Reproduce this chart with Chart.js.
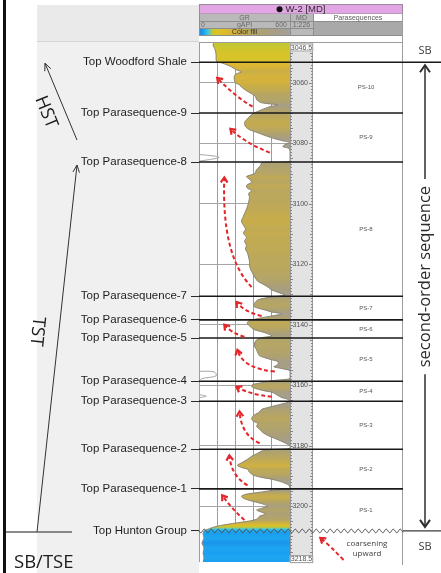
<!DOCTYPE html>
<html>
<head>
<meta charset="utf-8">
<title>W-2 gamma-ray log and parasequences</title>
<script src="https://cdn.jsdelivr.net/npm/chart.js@4.4.1/dist/chart.umd.min.js"></script>
<style>
  html, body { margin: 0; padding: 0; background: #ffffff; }
  #box { width: 441px; height: 573px; }
</style>
</head>
<body>
<div id="box"><canvas id="log" width="441" height="573"></canvas></div>
<script>
// Measured-depth window of the log (ft MD)
const depthRange = [3046.5, 3218.5];
// GR track scale (gAPI)
const grRange = [0, 600];

// Gamma-ray log of well W-2: measured depth (ft) and GR (gAPI)
const grDepth = [
  3046.5, 3047.5, 3049.1, 3050.8, 3052.4, 3053.1, 3053.4, 3054.1, 3054.7, 3055.7,
  3056.4, 3057.0, 3057.7, 3059.0, 3060.0, 3060.7, 3061.7, 3062.6, 3063.6, 3064.6,
  3065.6, 3066.6, 3067.3, 3067.9, 3068.9, 3069.9, 3070.5, 3071.5, 3072.2, 3073.2,
  3074.5, 3075.5, 3076.5, 3077.5, 3078.5, 3079.1, 3079.8, 3080.4, 3081.1, 3081.7,
  3082.7, 3084.7, 3086.0, 3086.4, 3087.3, 3088.7, 3090.0, 3091.0, 3091.9, 3092.9,
  3093.9, 3094.9, 3095.6, 3096.6, 3097.9, 3099.5, 3100.8, 3102.5, 3104.1, 3105.8,
  3107.1, 3108.4, 3109.7, 3111.1, 3112.4, 3113.7, 3115.0, 3116.3, 3117.6, 3119.0,
  3120.3, 3121.6, 3122.9, 3124.2, 3125.6, 3126.5, 3127.5, 3128.5, 3129.5, 3130.2,
  3130.5, 3131.2, 3131.8, 3132.8, 3133.8, 3134.4, 3135.1, 3135.8, 3136.4, 3137.1,
  3137.7, 3138.4, 3139.1, 3139.7, 3140.4, 3141.0, 3141.7, 3142.3, 3143.0, 3143.7,
  3144.3, 3145.0, 3146.0, 3147.3, 3148.3, 3149.3, 3150.3, 3150.9, 3151.6, 3152.2,
  3153.2, 3153.9, 3154.5, 3155.2, 3156.2, 3157.8, 3158.5, 3159.1, 3159.8, 3160.4,
  3161.1, 3161.8, 3162.4, 3163.4, 3164.1, 3164.7, 3165.4, 3166.1, 3166.7, 3167.4,
  3168.0, 3169.0, 3170.0, 3171.0, 3171.7, 3172.7, 3173.6, 3174.6, 3175.6, 3176.6,
  3177.6, 3178.6, 3179.6, 3180.2, 3180.9, 3181.5, 3182.5, 3183.5, 3184.5, 3185.5,
  3186.5, 3187.2, 3187.8, 3188.8, 3189.8, 3190.5, 3191.1, 3191.8, 3192.4, 3193.1,
  3194.1, 3194.8, 3195.4, 3196.1, 3196.7, 3197.4, 3198.1, 3198.7, 3199.4, 3200.0,
  3200.7, 3201.3, 3202.0, 3202.6, 3203.3, 3204.3, 3204.9, 3205.6, 3206.3, 3206.9,
  3207.6, 3208.2, 3209.2, 3210.5, 3212.2, 3213.8, 3215.5, 3217.1, 3218.5
];
const grValue = [
  100, 93, 107, 113, 113, 120, 147, 187, 213, 247,
  280, 247, 233, 233, 240, 267, 287, 313, 347, 373,
  380, 413, 520, 467, 413, 367, 347, 327, 313, 300,
  307, 333, 387, 440, 500, 547, 600, 567, 553, 593,
  600, 600, 600, 413, 407, 380, 367, 313, 333, 347,
  313, 320, 347, 327, 333, 327, 320, 307, 293, 280,
  293, 307, 293, 313, 300, 313, 307, 320, 327, 333,
  333, 340, 353, 367, 387, 420, 453, 480, 533, 567,
  533, 433, 387, 367, 360, 380, 433, 480, 547, 480,
  413, 353, 320, 320, 333, 347, 367, 413, 453, 480,
  413, 380, 367, 367, 380, 387, 400, 433, 480, 520,
  520, 493, 547, 600, 600, 600, 480, 420, 353, 347,
  373, 427, 487, 520, 547, 587, 600, 553, 507, 453,
  413, 393, 360, 347, 353, 387, 380, 400, 420, 453,
  500, 547, 587, 600, 600, 427, 387, 347, 320, 287,
  253, 280, 320, 333, 360, 413, 480, 533, 567, 593,
  600, 480, 400, 307, 280, 293, 333, 380, 427, 453,
  413, 380, 413, 440, 400, 380, 333, 240, 153, 100,
  60, 33, 27, 33, 20, 33, 27, 33, 27
];

// Wrapped (off-scale) part of the GR trace, gAPI minus 600; null breaks the trace
const wrapDepth = [3083.7, 3084.2, 3084.7, 3085.4, 3085.9, 3120.0, 3155.4, 3155.6, 3156.9, 3157.8, 3158.5, 3160.0, 3163.1, 3163.6, 3164.1];
const wrapValue = [0, 100, 133, 67, 0, null, 0, 100, 113, 20, 0, null, 0, 47, 7];

// Formation / parasequence tops (ft MD)
const topNames = [
  'Top Woodford Shale', 'Top Parasequence-9', 'Top Parasequence-8', 'Top Parasequence-7',
  'Top Parasequence-6', 'Top Parasequence-5', 'Top Parasequence-4', 'Top Parasequence-3',
  'Top Parasequence-2', 'Top Parasequence-1', 'Top Hunton Group'
];
const topDepths = [3053.2, 3070.0, 3086.2, 3130.6, 3138.4, 3144.4, 3158.7, 3165.3, 3181.2, 3194.3, 3208.2];

// Parasequence names, one per interval between consecutive tops
const psNames = ['PS-10', 'PS-9', 'PS-8', 'PS-7', 'PS-6', 'PS-5', 'PS-4', 'PS-3', 'PS-2', 'PS-1'];

// Depth-track labels
const mdTicks = [3060, 3080, 3100, 3120, 3140, 3160, 3180, 3200];
const mdEnds = ['3046.5', '3218.5'];

// Coarsening-upward arrows: [GR, depth] of tail, bend and head
const arrowTail = [[353, 3067.9], [467, 3083.1], [347, 3127.5], [413, 3137.1], [300, 3144.0], [500, 3155.5], [480, 3163.8], [400, 3179.2], [320, 3193.1], [300, 3204.6]];
const arrowBend = [[240, 3064.6], [300, 3079.8], [147, 3117.3], [300, 3135.8], [213, 3142.7], [287, 3154.5], [333, 3163.1], [280, 3176.6], [213, 3190.1], [213, 3200.7]];
const arrowHead = [[120, 3058.4], [207, 3075.2], [167, 3091.3], [247, 3132.5], [167, 3140.0], [253, 3148.3], [247, 3160.5], [267, 3168.7], [200, 3183.2], [153, 3196.4]];
// Key arrow next to "coarsening upward"
const keyArrow = [[953, 3217.8], [867, 3213.2], [800, 3210.5]];

// ---- colour fill (GR value -> colour) ----
const fillStops = [
  [0.00, '#1a7fe0'], [0.05, '#1aa2f2'], [0.10, '#3cc8e8'], [0.14, '#b8c838'],
  [0.19, '#d8c428'], [0.30, '#e0b82e'], [0.45, '#cbae46'], [0.55, '#bba85c'],
  [0.70, '#ada074'], [0.85, '#a69e86'], [1.00, '#a3a19a']
];
function hexRgb(h) { return [parseInt(h.slice(1, 3), 16), parseInt(h.slice(3, 5), 16), parseInt(h.slice(5, 7), 16)]; }
function grColour(v) {
  const t = Math.max(0, Math.min(1, (v - grRange[0]) / (grRange[1] - grRange[0])));
  for (let i = 1; i < fillStops.length; i++) {
    if (t <= fillStops[i][0]) {
      const [t0, c0] = fillStops[i - 1], [t1, c1] = fillStops[i];
      const f = (t - t0) / (t1 - t0), a = hexRgb(c0), b = hexRgb(c1);
      return 'rgb(' + a.map((x, k) => Math.round(x + (b[k] - x) * f)).join(',') + ')';
    }
  }
  return fillStops[fillStops.length - 1][1];
}
function fillByValue(context) {
  const chart = context.chart, area = chart.chartArea;
  if (!area || !chart.scales.y) return '#c4ac50';
  const ys = chart.scales.y;
  const g = chart.ctx.createLinearGradient(0, area.top, 0, area.bottom);
  grDepth.forEach((d, i) => {
    const p = (ys.getPixelForValue(d) - area.top) / (area.bottom - area.top);
    g.addColorStop(Math.max(0, Math.min(1, p)), grColour(grValue[i]));
  });
  return g;
}

const SANS = '"Liberation Sans", Arial, sans-serif';
const OPEN = '"Open Sans", "Liberation Sans", sans-serif';

// track geometry next to the GR track (px)
const MD_W = 23, PS_W = 90, PANEL_L = 37;

// ---- backgrounds and headers ----
const panelPlugin = {
  id: 'logPanel',
  beforeDraw(chart) {
    const { ctx, chartArea: a } = chart;
    const W = chart.width, H = chart.height;
    const mdL = a.right, mdR = a.right + MD_W, psL = mdR, psR = mdR + PS_W;
    ctx.save();
    ctx.fillStyle = '#ffffff'; ctx.fillRect(0, 0, W, H);
    // grey panel behind the top labels
    ctx.fillStyle = '#f0f0f0'; ctx.fillRect(PANEL_L, 5, a.left - PANEL_L, H - 5);
    ctx.fillStyle = '#eaeaea'; ctx.fillRect(PANEL_L, 5, a.left - PANEL_L, a.top - 6);
    ctx.strokeStyle = '#d4d4d4'; ctx.lineWidth = 1;
    ctx.beginPath(); ctx.moveTo(PANEL_L, a.top - 0.5); ctx.lineTo(a.left, a.top - 0.5); ctx.stroke();
    // frame on the left edge
    ctx.fillStyle = '#111111'; ctx.fillRect(3, 0, 3, H);

    // track backgrounds
    ctx.fillStyle = '#ffffff'; ctx.fillRect(a.left, 14, psR - a.left, H - 14);
    ctx.fillStyle = '#e3e3e3'; ctx.fillRect(mdL, a.top, MD_W, a.bottom - a.top);

    // title bar
    ctx.fillStyle = '#e3a6e5'; ctx.fillRect(a.left, 4, psR - a.left, 10);
    ctx.strokeStyle = '#9a8a9a'; ctx.strokeRect(a.left + 0.5, 4.5, psR - a.left - 1, 9.5);
    ctx.font = '9.5px ' + SANS; ctx.textBaseline = 'middle'; ctx.textAlign = 'left';
    const title = 'W-2 [MD]';
    const tw = ctx.measureText(title).width, tot = 6 + 3 + tw;
    const tx = (a.left + psR) / 2 - tot / 2;
    ctx.fillStyle = '#111111';
    ctx.beginPath(); ctx.arc(tx + 3, 9.2, 3, 0, Math.PI * 2); ctx.fill();
    ctx.fillStyle = '#2a2a2a'; ctx.fillText(title, tx + 9, 9.5);

    // GR and MD headers
    ctx.fillStyle = '#b9b9b9';
    ctx.fillRect(a.left, 14, a.right - a.left, 15);
    ctx.fillRect(mdL, 14, MD_W, 21.5);
    // colour-fill legend bar
    const cg = ctx.createLinearGradient(a.left, 0, a.right, 0);
    fillStops.forEach(([t, c]) => cg.addColorStop(t, c));
    ctx.fillStyle = cg; ctx.fillRect(a.left, 29, a.right - a.left, 6.5);
    // parasequence header
    ctx.fillStyle = '#ffffff'; ctx.fillRect(psL, 14, PS_W, 7.5);
    ctx.fillStyle = '#a9a9a9'; ctx.fillRect(psL, 21.5, PS_W, 14);
    // header separators
    ctx.strokeStyle = '#8e8e8e'; ctx.lineWidth = 1;
    ctx.beginPath();
    ctx.moveTo(a.left, 21.5); ctx.lineTo(mdR, 21.5);
    ctx.moveTo(a.left, 28.5); ctx.lineTo(mdR, 28.5);
    ctx.moveTo(a.left, 35.5); ctx.lineTo(psR, 35.5);
    ctx.moveTo(psL, 21.5); ctx.lineTo(psR, 21.5);
    ctx.moveTo(a.left + 0.5, 14); ctx.lineTo(a.left + 0.5, 35.5);
    ctx.moveTo(mdL + 0.5, 14); ctx.lineTo(mdL + 0.5, 35.5);
    ctx.moveTo(psL + 0.5, 14); ctx.lineTo(psL + 0.5, 35.5);
    ctx.moveTo(psR - 0.5, 14); ctx.lineTo(psR - 0.5, 35.5);
    ctx.stroke();
    // header text
    ctx.font = '7px ' + SANS; ctx.fillStyle = '#6a6a6a';
    ctx.textAlign = 'center';
    ctx.fillText('GR', (a.left + a.right) / 2, 18);
    ctx.fillText('gAPI', (a.left + a.right) / 2, 25.2);
    ctx.fillText('MD', mdL + MD_W / 2, 18);
    ctx.fillText('1:226', mdL + MD_W / 2, 25.2);
    ctx.textAlign = 'left'; ctx.fillText(String(grRange[0]), a.left + 2, 25.2);
    ctx.textAlign = 'right'; ctx.fillText(String(grRange[1]), a.right - 3, 25.2);
    ctx.textAlign = 'center'; ctx.fillStyle = '#333333';
    ctx.fillText('Color fill', (a.left + a.right) / 2, 32.4);
    ctx.fillStyle = '#5a5a5a';
    ctx.fillText('Parasequences', psL + PS_W / 2, 17.9);
    ctx.restore();
  }
};

// ---- tops, depth track, parasequence column and annotations ----
function openArrow(ctx, x0, y0, x1, y1, size) {
  const ang = Math.atan2(y1 - y0, x1 - x0);
  ctx.beginPath(); ctx.moveTo(x0, y0); ctx.lineTo(x1, y1); ctx.stroke();
  ctx.beginPath();
  ctx.moveTo(x1 - size * Math.cos(ang - 0.42), y1 - size * Math.sin(ang - 0.42));
  ctx.lineTo(x1, y1);
  ctx.lineTo(x1 - size * Math.cos(ang + 0.42), y1 - size * Math.sin(ang + 0.42));
  ctx.stroke();
}
function dashedArrow(ctx, p0, c, p1) {
  ctx.save();
  ctx.strokeStyle = '#e3262b'; ctx.lineWidth = 2; ctx.lineCap = 'butt';
  ctx.setLineDash([4, 2.6]);
  ctx.beginPath(); ctx.moveTo(p0.x, p0.y); ctx.quadraticCurveTo(c.x, c.y, p1.x, p1.y); ctx.stroke();
  ctx.setLineDash([]);
  const ang = Math.atan2(p1.y - c.y, p1.x - c.x), s = 6;
  ctx.lineWidth = 2.2; ctx.lineJoin = 'miter';
  ctx.beginPath();
  ctx.moveTo(p1.x - s * Math.cos(ang - 0.6), p1.y - s * Math.sin(ang - 0.6));
  ctx.lineTo(p1.x, p1.y);
  ctx.lineTo(p1.x - s * Math.cos(ang + 0.6), p1.y - s * Math.sin(ang + 0.6));
  ctx.stroke();
  ctx.restore();
}

const overlayPlugin = {
  id: 'logOverlay',
  afterDraw(chart) {
    const { ctx, chartArea: a, scales } = chart;
    const W = chart.width, H = chart.height;
    const yPix = d => scales.y.getPixelForValue(d);
    const xPix = v => scales.x.getPixelForValue(v);
    const pt = p => ({ x: xPix(p[0]), y: yPix(p[1]) });
    const mdL = a.right, mdR = a.right + MD_W, psL = mdR, psR = mdR + PS_W;
    const yw = yPix(topDepths[0]);
    const yh = yPix(topDepths[topDepths.length - 1]);
    const y8 = yPix(topDepths[2]);
    ctx.save();

    // track frame
    ctx.strokeStyle = '#9c9c9c'; ctx.lineWidth = 1;
    ctx.beginPath();
    ctx.moveTo(a.left, a.top + 0.5); ctx.lineTo(psR, a.top + 0.5);
    ctx.moveTo(mdR - 0.5, a.top); ctx.lineTo(mdR - 0.5, a.bottom);
    ctx.moveTo(psR - 0.5, 14); ctx.lineTo(psR - 0.5, H - 8);
    ctx.stroke();

    // depth-track ruler
    ctx.strokeStyle = '#878787';
    ctx.beginPath();
    for (let d = Math.ceil(depthRange[0]); d <= depthRange[1]; d++) {
      const y = Math.round(yPix(d)) + 0.5, len = d % 5 === 0 ? 3 : 2;
      ctx.moveTo(mdL, y); ctx.lineTo(mdL + len, y);
      ctx.moveTo(mdR - len, y); ctx.lineTo(mdR, y);
    }
    ctx.stroke();
    ctx.font = '7px ' + SANS; ctx.textBaseline = 'middle';
    ctx.textAlign = 'right'; ctx.fillStyle = '#505050';
    mdTicks.forEach(d => {
      const y = yPix(d);
      ctx.fillText(String(d), mdR - 5, y);
      ctx.beginPath(); ctx.moveTo(mdR - 4, Math.round(y) + 0.5); ctx.lineTo(mdR, Math.round(y) + 0.5); ctx.stroke();
    });
    // end depths in small boxes
    ctx.textAlign = 'center';
    [[mdEnds[0], a.top + 5.5], [mdEnds[1], a.bottom - 3]].forEach(([s, y]) => {
      const w = ctx.measureText(s).width + 2;
      ctx.fillStyle = '#ffffff'; ctx.fillRect(mdL + MD_W / 2 - w / 2, y - 4, w, 8);
      ctx.strokeStyle = '#9a9a9a'; ctx.strokeRect(mdL + MD_W / 2 - w / 2 + 0.5, y - 3.5, w - 1, 7);
      ctx.fillStyle = '#505050'; ctx.fillText(s, mdL + MD_W / 2, y + 0.3);
    });

    // tops across the tracks
    ctx.strokeStyle = '#181818'; ctx.lineWidth = 1.6;
    topDepths.forEach((d, i) => {
      if (i === topDepths.length - 1) return;
      const y = yPix(d);
      ctx.beginPath(); ctx.moveTo(a.left, y); ctx.lineTo(i === 0 ? W : psR, y); ctx.stroke();
    });
    // unconformity at the top of the Hunton Group
    ctx.strokeStyle = '#4c4c4c'; ctx.lineWidth = 1;
    ctx.beginPath();
    for (let x = a.left; x <= psR; x += 0.5) {
      const y = yh + 1.8 * Math.sin((x - a.left) / 7 * 2 * Math.PI);
      if (x === a.left) ctx.moveTo(x, y); else ctx.lineTo(x, y);
    }
    ctx.stroke();
    ctx.strokeStyle = '#3a3a3a'; ctx.lineWidth = 1.2;
    ctx.beginPath(); ctx.moveTo(psR, yh); ctx.lineTo(W, yh); ctx.stroke();

    // parasequence names
    ctx.font = '6px ' + SANS; ctx.fillStyle = '#555555'; ctx.textAlign = 'center';
    psNames.forEach((n, i) => {
      ctx.fillText(n, psL + 53, (yPix(topDepths[i]) + yPix(topDepths[i + 1])) / 2);
    });
    ctx.font = '8px ' + OPEN; ctx.fillStyle = '#404040';
    ctx.fillText('coarsening', psL + 54, yh + 13);
    ctx.fillText('upward', psL + 54, yh + 23);

    // coarsening-upward arrows
    arrowTail.forEach((t, i) => dashedArrow(ctx, pt(t), pt(arrowBend[i]), pt(arrowHead[i])));
    dashedArrow(ctx, pt(keyArrow[0]), pt(keyArrow[1]), pt(keyArrow[2]));

    // second-order sequence
    const sx = psR + 22;
    ctx.fillStyle = '#3c3c3c'; ctx.font = '11px ' + OPEN; ctx.textAlign = 'center';
    ctx.fillText('SB', sx, yw - 11);
    ctx.fillText('SB', sx, yh + 16);
    const label = 'second-order sequence';
    ctx.font = '16.5px ' + OPEN;
    const lw = ctx.measureText(label).width;
    const midY = (yw + yh) / 2 - 20;
    const yTop = yw + 3, yBot = yh - 4;
    ctx.strokeStyle = '#2e2e2e'; ctx.lineWidth = 1.5;
    ctx.beginPath();
    ctx.moveTo(sx, yTop + 1); ctx.lineTo(sx, midY - lw / 2 - 7);
    ctx.moveTo(sx, midY + lw / 2 + 7); ctx.lineTo(sx, yBot - 1);
    ctx.stroke();
    ctx.lineWidth = 2;
    ctx.beginPath();
    ctx.moveTo(sx - 5, yTop + 7); ctx.lineTo(sx, yTop); ctx.lineTo(sx + 5, yTop + 7);
    ctx.moveTo(sx - 5, yBot - 7); ctx.lineTo(sx, yBot); ctx.lineTo(sx + 5, yBot - 7);
    ctx.stroke();
    ctx.save();
    ctx.translate(sx, midY); ctx.rotate(-Math.PI / 2);
    ctx.fillStyle = '#2a2a2a'; ctx.textBaseline = 'middle';
    ctx.fillText(label, 0, 0);
    ctx.restore();

    // systems tracts on the left
    ctx.strokeStyle = '#666666'; ctx.lineWidth = 1.5;
    ctx.beginPath(); ctx.moveTo(6, yh + 1); ctx.lineTo(72, yh + 1); ctx.stroke();
    ctx.strokeStyle = '#333333'; ctx.lineWidth = 1;
    openArrow(ctx, 37, yh + 1, 77, y8 + 3, 8);
    openArrow(ctx, 77, y8 - 22, 45, yw + 1, 8);
    ctx.fillStyle = '#1c1c1c'; ctx.font = '18px ' + OPEN; ctx.textBaseline = 'middle';
    ctx.save();
    ctx.translate(46, (y8 - 22 + yw) / 2 + 11); ctx.rotate(68 * Math.PI / 180);
    ctx.fillText('HST', 0, 0);
    ctx.restore();
    ctx.save();
    ctx.translate(37, (yh + y8) / 2 - 15); ctx.rotate(96 * Math.PI / 180);
    ctx.fillText('TST', 0, 0);
    ctx.restore();
    ctx.textAlign = 'left'; ctx.textBaseline = 'alphabetic'; ctx.font = '18.5px ' + OPEN;
    ctx.fillText('SB/TSE', 14, H - 5);
    ctx.restore();
  }
};

new Chart(document.getElementById('log'), {
  type: 'line',
  data: {
    datasets: [
      {
        label: 'GR',
        data: grDepth.map((d, i) => ({ x: grValue[i], y: d })),
        borderColor: '#8a8470', borderWidth: 1,
        pointRadius: 0, tension: 0.25,
        fill: { value: grRange[1] },
        backgroundColor: fillByValue
      },
      {
        label: 'GR wrapped',
        data: wrapDepth.map((d, i) => ({ x: wrapValue[i], y: d })),
        borderColor: '#a8a8a8', borderWidth: 1,
        pointRadius: 0, tension: 0.35, fill: false, spanGaps: false
      }
    ]
  },
  options: {
    indexAxis: 'y',
    responsive: false,
    animation: false,
    devicePixelRatio: 1,
    layout: { padding: { left: 0, right: 151, top: 42, bottom: 9 } },
    plugins: { legend: { display: false }, tooltip: { enabled: false } },
    scales: {
      x: {
        type: 'linear', position: 'top', min: grRange[0], max: grRange[1],
        ticks: { display: false, stepSize: 120 },
        grid: { color: '#9c9c9c', drawTicks: false },
        border: { display: false },
        afterFit: s => { s.height = 0; }
      },
      y: {
        type: 'linear', position: 'left', reverse: true,
        min: depthRange[0], max: depthRange[1],
        afterBuildTicks: s => { s.ticks = topDepths.map(v => ({ value: v })); },
        ticks: {
          autoSkip: false, padding: 4, color: '#1e1e1e',
          font: { family: SANS, size: 11.5 },
          callback: (v, i) => topNames[i]
        },
        grid: { drawOnChartArea: false, drawTicks: true, tickLength: 8, tickColor: '#2a2a2a', tickWidth: 1 },
        border: { display: false },
        afterFit: s => { s.width = 199; }
      },
      yd: {
        type: 'linear', position: 'right', reverse: true,
        min: depthRange[0], max: depthRange[1],
        afterBuildTicks: s => { s.ticks = mdTicks.map(v => ({ value: v })); },
        ticks: { display: false },
        grid: { color: '#a6a6a6', drawTicks: false },
        border: { display: false },
        afterFit: s => { s.width = 0; }
      }
    }
  },
  plugins: [panelPlugin, overlayPlugin]
});
</script>
</body>
</html>
